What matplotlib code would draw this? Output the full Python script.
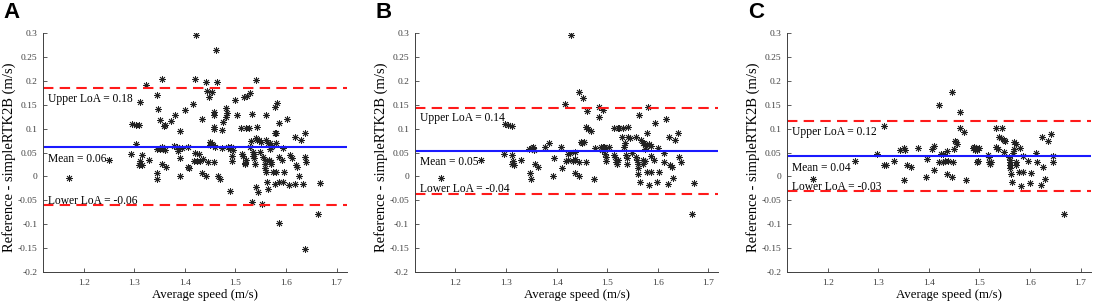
import matplotlib
matplotlib.use('Agg')
import matplotlib.pyplot as plt
from matplotlib.ticker import FormatStrFormatter

plt.rcParams['font.family'] = ['Liberation Serif', 'DejaVu Serif']
plt.rcParams['axes.unicode_minus'] = False

# panel A: (average speed, difference)
a_x = [1.171, 1.250, 1.294, 1.296, 1.303, 1.309, 1.303, 1.311, 1.324, 1.315, 1.311, 1.309, 1.316, 1.329,
       1.344, 1.347, 1.351, 1.345, 1.351, 1.357, 1.355, 1.360, 1.344, 1.344, 1.355, 1.362, 1.355, 1.358,
       1.361, 1.373, 1.381, 1.378, 1.387, 1.385, 1.390, 1.391, 1.391, 1.394, 1.401, 1.407, 1.407, 1.408,
       1.416, 1.419, 1.424, 1.421, 1.421, 1.427, 1.422, 1.430, 1.435, 1.434, 1.434, 1.442, 1.442, 1.443,
       1.445, 1.448, 1.450, 1.449, 1.453, 1.456, 1.454, 1.457, 1.457, 1.457, 1.458, 1.457, 1.460, 1.462,
       1.463, 1.466, 1.469, 1.473, 1.473, 1.476, 1.481, 1.484, 1.481, 1.486, 1.489, 1.492, 1.495, 1.489,
       1.494, 1.494, 1.499, 1.504, 1.510, 1.512, 1.514, 1.518, 1.521, 1.519, 1.517, 1.522, 1.520, 1.527,
       1.529, 1.530, 1.529, 1.532, 1.533, 1.535, 1.536, 1.534, 1.537, 1.538, 1.540, 1.543, 1.540, 1.542,
       1.540, 1.545, 1.547, 1.551, 1.548, 1.553, 1.555, 1.558, 1.558, 1.559, 1.560, 1.560, 1.561, 1.565,
       1.568, 1.566, 1.567, 1.570, 1.570, 1.562, 1.565, 1.569, 1.571, 1.573, 1.574, 1.581, 1.578, 1.582,
       1.578, 1.581, 1.580, 1.579, 1.586, 1.587, 1.586, 1.593, 1.587, 1.594, 1.594, 1.597, 1.602, 1.606,
       1.608, 1.612, 1.617, 1.617, 1.619, 1.622, 1.625, 1.630, 1.633, 1.637, 1.638, 1.640, 1.637, 1.663,
       1.667]
a_y = [-0.004, 0.034, 0.047, 0.110, 0.108, 0.107, 0.068, 0.157, 0.192, 0.045, 0.032, 0.024, 0.024, 0.034,
       0.171, 0.141, 0.118, 0.058, 0.058, 0.058, 0.061, 0.056, 0.007, -0.006, 0.025, 0.020, 0.204, 0.106,
       0.108, 0.117, 0.129, 0.064, 0.054, 0.061, 0.095, 0.038, 0.001, 0.059, 0.139, 0.062, 0.020, 0.017,
       0.152, 0.032, 0.032, 0.205, 0.048, 0.047, 0.296, 0.032, 0.036, 0.120, 0.008, 0.001, 0.197, 0.179,
       0.031, 0.166, 0.072, 0.065, 0.068, 0.066, 0.177, 0.136, 0.129, 0.104, 0.100, 0.031, 0.061, 0.266,
       0.199, 0.000, -0.006, 0.097, 0.059, 0.115, 0.143, 0.132, 0.125, 0.062, 0.058, 0.062, 0.055, -0.030,
       0.043, 0.033, 0.160, 0.129, 0.101, 0.047, 0.043, 0.028, 0.035, 0.026, 0.167, 0.169, 0.101, 0.101,
       0.175, 0.075, 0.062, 0.130, -0.053, 0.052, 0.047, 0.042, 0.038, 0.027, 0.080, 0.076, 0.203, 0.103,
       -0.022, -0.032, 0.077, 0.073, 0.052, -0.057, 0.041, 0.034, 0.027, 0.017, 0.010, 0.129, 0.076, 0.070,
       0.069, 0.035, 0.033, 0.030, 0.025, -0.011, -0.027, 0.057, 0.062, 0.064, 0.010, 0.010, 0.145, 0.153,
       0.090, 0.092, 0.069, -0.016, -0.097, 0.111, 0.041, 0.034, -0.011, -0.011, 0.059, 0.010, 0.121, -0.018,
       0.045, 0.038, 0.083, -0.017, 0.024, 0.020, 0.000, 0.076, -0.017, 0.092, 0.041, 0.031, -0.153, -0.078,
       -0.013]

# panel B
b_x = [1.171, 1.251, 1.296, 1.297, 1.304, 1.311, 1.311, 1.311, 1.313, 1.316, 1.330, 1.347, 1.349, 1.345,
       1.351, 1.354, 1.356, 1.357, 1.363, 1.378, 1.385, 1.393, 1.395, 1.411, 1.409, 1.417, 1.419, 1.422,
       1.426, 1.423, 1.428, 1.432, 1.437, 1.437, 1.436, 1.445, 1.445, 1.445, 1.452, 1.448, 1.455, 1.451,
       1.459, 1.461, 1.459, 1.462, 1.468, 1.474, 1.476, 1.484, 1.484, 1.491, 1.487, 1.491, 1.494, 1.497,
       1.489, 1.496, 1.498, 1.497, 1.503, 1.513, 1.516, 1.518, 1.520, 1.521, 1.513, 1.521, 1.524, 1.529,
       1.532, 1.541, 1.533, 1.535, 1.538, 1.540, 1.540, 1.541, 1.546, 1.549, 1.557, 1.557, 1.558, 1.561,
       1.561, 1.561, 1.563, 1.564, 1.567, 1.570, 1.573, 1.570, 1.574, 1.571, 1.574, 1.576, 1.579, 1.580,
       1.582, 1.579, 1.586, 1.582, 1.586, 1.587, 1.593, 1.595, 1.598, 1.600, 1.602, 1.612, 1.613, 1.616,
       1.620, 1.622, 1.625, 1.628, 1.630, 1.634, 1.641, 1.643, 1.645, 1.667, 1.671]
b_y = [-0.004, 0.034, 0.047, 0.109, 0.108, 0.106, 0.025, 0.045, 0.032, 0.024, 0.034, 0.008, -0.006, 0.057,
       0.060, 0.062, 0.056, 0.026, 0.020, 0.061, 0.069, 0.001, 0.038, 0.017, 0.062, 0.151, 0.032, 0.034,
       0.048, 0.047, 0.296, 0.032, 0.036, 0.052, 0.008, 0.001, 0.031, 0.178, 0.165, 0.072, 0.072, 0.069,
       0.031, 0.137, 0.104, 0.100, 0.096, -0.006, 0.059, 0.145, 0.125, 0.139, 0.062, 0.062, 0.062, 0.059,
       0.055, 0.047, 0.033, 0.041, 0.062, 0.045, 0.041, 0.031, 0.027, 0.035, 0.101, 0.101, 0.102, 0.083,
       0.102, 0.103, 0.062, 0.069, 0.045, 0.038, 0.027, 0.083, 0.080, 0.050, 0.082, 0.041, 0.034, 0.027,
       0.017, 0.006, 0.129, -0.011, 0.076, 0.071, 0.069, 0.035, 0.033, 0.027, 0.057, 0.064, 0.090, 0.145,
       -0.018, 0.010, 0.010, 0.068, 0.064, 0.043, 0.034, 0.111, -0.011, 0.059, 0.010, 0.050, 0.031, 0.120,
       -0.017, 0.083, 0.023, 0.019, -0.004, 0.076, 0.092, 0.041, 0.031, -0.078, -0.013]

# panel C
c_x = [1.171, 1.253, 1.297, 1.312, 1.312, 1.315, 1.332, 1.350, 1.343, 1.350, 1.352, 1.356, 1.364, 1.379,
       1.394, 1.396, 1.407, 1.411, 1.411, 1.420, 1.420, 1.427, 1.423, 1.428, 1.431, 1.435, 1.437, 1.436,
       1.446, 1.446, 1.448, 1.450, 1.453, 1.456, 1.451, 1.461, 1.461, 1.470, 1.474, 1.487, 1.490, 1.493,
       1.496, 1.491, 1.496, 1.498, 1.500, 1.516, 1.519, 1.520, 1.522, 1.519, 1.533, 1.533, 1.537, 1.539,
       1.543, 1.545, 1.548, 1.550, 1.548, 1.559, 1.560, 1.561, 1.560, 1.561, 1.563, 1.565, 1.566, 1.569,
       1.568, 1.572, 1.572, 1.573, 1.578, 1.581, 1.583, 1.586, 1.587, 1.596, 1.599, 1.602, 1.612, 1.613,
       1.622, 1.624, 1.625, 1.630, 1.636, 1.641, 1.645, 1.646, 1.667]
c_y = [-0.005, 0.032, 0.046, 0.105, 0.024, 0.023, 0.032, -0.008, 0.056, 0.059, 0.055, 0.024, 0.019, 0.059,
       -0.002, 0.037, 0.058, 0.063, 0.013, 0.150, 0.030, 0.030, 0.046, 0.047, 0.032, 0.053, 0.032, 0.005,
       -0.001, 0.177, 0.030, 0.058, 0.072, 0.068, 0.075, 0.135, 0.101, 0.094, -0.008, 0.060, 0.062, 0.060,
       0.055, 0.055, 0.030, 0.033, 0.060, 0.044, 0.040, 0.027, 0.031, 0.031, 0.101, 0.061, 0.058, 0.082,
       0.081, 0.101, 0.077, 0.075, 0.051, 0.040, 0.035, 0.030, 0.023, 0.017, 0.005, -0.012, 0.049, 0.058,
       0.072, 0.068, 0.031, 0.024, 0.009, 0.059, -0.020, 0.009, 0.042, 0.033, -0.013, 0.007, 0.049, 0.030,
       -0.018, 0.082, 0.020, -0.005, 0.075, 0.089, 0.042, 0.030, -0.079]

# mean, upper LoA, lower LoA and their printed labels
means = [0.062, 0.054, 0.043]
uppers = [0.185, 0.144, 0.116]
lowers = [-0.061, -0.036, -0.031]
mean_txt = ['0.06', '0.05', '0.04']
upper_txt = ['0.18', '0.14', '0.12']
lower_txt = ['-0.06', '-0.04', '-0.03']
letters = ['A', 'B', 'C']

xs = [a_x, b_x, c_x]
ys = [a_y, b_y, c_y]
lefts = [0.0396, 0.3797, 0.7203]

fig = plt.figure(figsize=(10.93, 3.06), dpi=100)

for i in range(3):
    ax = fig.add_axes([lefts[i], 0.112, 0.2776, 0.779])
    ax.plot(xs[i], ys[i], linestyle='none', marker=(8, 2, 0), markersize=5,
            markeredgewidth=0.6, color='#222222')
    ax.axhline(means[i], color='#1a1aff', linewidth=1.5)
    ax.axhline(uppers[i], color='#ff1a1a', linewidth=1.5, linestyle=(0, (5, 3)))
    ax.axhline(lowers[i], color='#ff1a1a', linewidth=1.5, linestyle=(0, (5, 3)))

    ax.text(1.13, uppers[i] - 0.01, 'Upper LoA = ' + upper_txt[i], fontsize=8.3, va='top')
    ax.text(1.13, means[i] - 0.012, 'Mean = ' + mean_txt[i], fontsize=8.3, va='top')
    ax.text(1.13, lowers[i] + 0.003, 'Lower LoA = ' + lower_txt[i], fontsize=8.3, va='baseline')

    ax.set_xlim(1.12, 1.72)
    ax.set_ylim(-0.2, 0.3)
    ax.set_xticks([1.2, 1.3, 1.4, 1.5, 1.6, 1.7])
    ax.set_yticks([-0.2, -0.15, -0.1, -0.05, 0, 0.05, 0.1, 0.15, 0.2, 0.25, 0.3])
    ax.xaxis.set_major_formatter(FormatStrFormatter('%g'))
    ax.yaxis.set_major_formatter(FormatStrFormatter('%g'))
    ax.tick_params(direction='in', length=3, width=0.6, labelsize=6.8,
                   colors='#404040', labelcolor='#404040')
    ax.tick_params(axis='x', pad=5.5)
    ax.tick_params(axis='y', pad=4.3)
    ax.spines['top'].set_visible(False)
    ax.spines['right'].set_visible(False)
    for s in ['left', 'bottom']:
        ax.spines[s].set_color('#404040')
        ax.spines[s].set_linewidth(0.7)

    ax.set_xlabel('Average speed (m/s)', fontsize=9.3, va='center')
    ax.xaxis.set_label_coords(0.533, -0.098)
    ax.set_ylabel('Reference - simpleRTK2B (m/s)', fontsize=10.5, va='center')
    ax.yaxis.set_label_coords(-0.112, 0.48)

    fig.text(lefts[i] - 0.0365 + (0.001 if i == 2 else 0), 0.995, letters[i], fontsize=16,
             fontweight='bold', family='Liberation Sans', va='top')

fig.savefig('out.png', dpi=100)
